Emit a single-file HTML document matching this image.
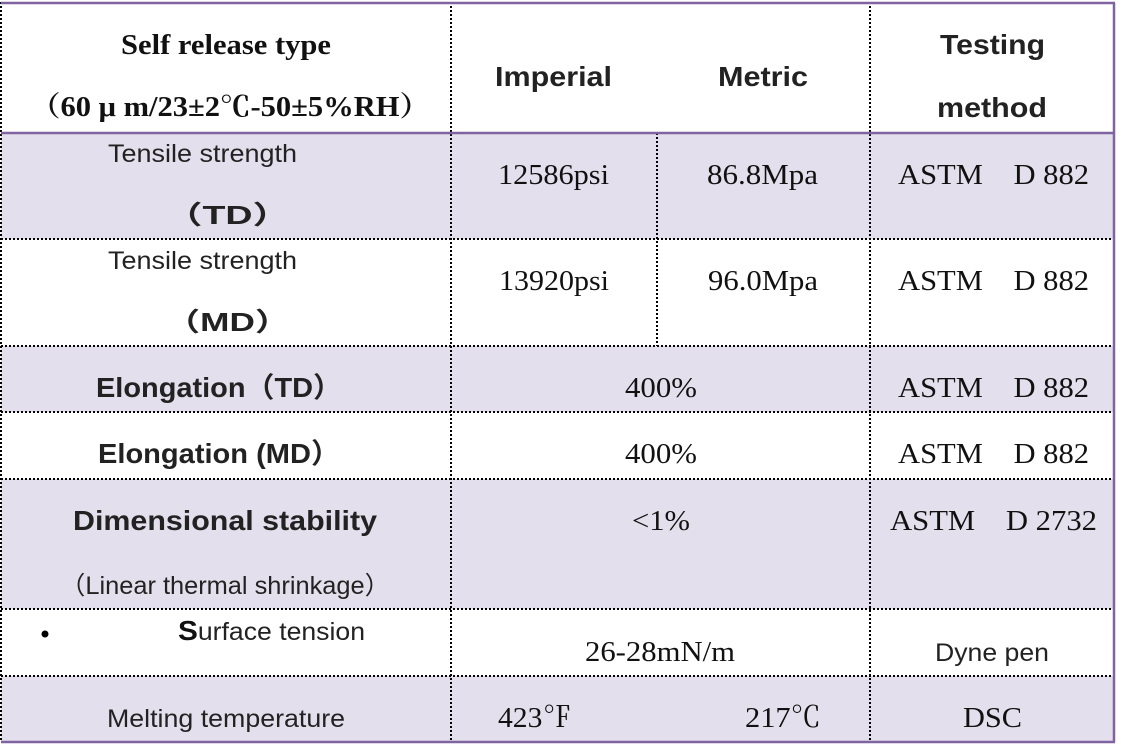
<!DOCTYPE html>
<html><head><meta charset="utf-8"><style>
html,body{margin:0;padding:0;background:#fff;}
svg{display:block}
.s{font-family:"Liberation Sans","Noto Sans CJK SC",sans-serif;fill:#222}
.r{font-family:"Liberation Serif","Noto Serif CJK SC",serif;fill:#111}
</style></head><body>
<svg width="1121" height="745" xmlns="http://www.w3.org/2000/svg">
<rect x="0" y="0" width="1121" height="745" fill="#fff"/>
<g fill="#e4dfec">
<rect x="1" y="133" width="1113" height="106"/>
<rect x="1" y="346" width="1113" height="66"/>
<rect x="1" y="479" width="1113" height="130"/>
<rect x="1" y="676" width="1113" height="66"/>
</g>
<g stroke="#000" stroke-width="2" stroke-dasharray="2,2" fill="none">
<line x1="1" y1="2" x2="1" y2="742"/>
<line x1="451" y1="2" x2="451" y2="742"/>
<line x1="657" y1="133" x2="657" y2="346"/>
<line x1="870" y1="2" x2="870" y2="742"/>
<line x1="1" y1="239" x2="1114" y2="239"/>
<line x1="1" y1="346" x2="1114" y2="346"/>
<line x1="1" y1="412" x2="1114" y2="412"/>
<line x1="1" y1="479" x2="1114" y2="479"/>
<line x1="1" y1="609" x2="1114" y2="609"/>
<line x1="1" y1="676" x2="1114" y2="676"/>
</g>
<g stroke="#8064a2" stroke-width="2.5" fill="none">
<line x1="1" y1="3" x2="1115" y2="3"/>
<line x1="1" y1="133" x2="1115" y2="133"/>
<line x1="1" y1="742" x2="1115" y2="742"/>
<line x1="1114" y1="3" x2="1114" y2="742"/>
</g>
<g lengthAdjust="spacingAndGlyphs">
<text class="r" x="121" y="54" font-size="28" font-weight="bold" textLength="210" lengthAdjust="spacingAndGlyphs">Self release type</text>
<text class="r" x="30" y="116" font-size="28" font-weight="bold" textLength="400" lengthAdjust="spacingAndGlyphs">（60 μ m/23±2℃-50±5%RH）</text>
<text class="s" x="495" y="86" font-size="28" font-weight="bold" fill="#111" textLength="117" lengthAdjust="spacingAndGlyphs">Imperial</text>
<text class="s" x="718" y="86" font-size="28" font-weight="bold" fill="#111" textLength="90" lengthAdjust="spacingAndGlyphs">Metric</text>
<text class="s" x="940" y="54" font-size="28" font-weight="bold" fill="#111" textLength="105" lengthAdjust="spacingAndGlyphs">Testing</text>
<text class="s" x="937" y="117" font-size="28" font-weight="bold" fill="#111" textLength="110" lengthAdjust="spacingAndGlyphs">method</text>

<text class="s" x="108" y="162" font-size="25" textLength="189" lengthAdjust="spacingAndGlyphs">Tensile strength</text>
<text class="s" x="165" y="224" font-size="26" font-weight="bold" fill="#111" textLength="125" lengthAdjust="spacingAndGlyphs">（TD）</text>
<text class="r" x="498" y="184" font-size="29" textLength="111" lengthAdjust="spacingAndGlyphs">12586psi</text>
<text class="r" x="707" y="184" font-size="29" textLength="111" lengthAdjust="spacingAndGlyphs">86.8Mpa</text>
<text class="r" x="898" y="184" font-size="29" textLength="191" lengthAdjust="spacingAndGlyphs">ASTM　D 882</text>

<text class="s" x="108" y="269" font-size="25" textLength="189" lengthAdjust="spacingAndGlyphs">Tensile strength</text>
<text class="s" x="165" y="331" font-size="26" font-weight="bold" fill="#111" textLength="125" lengthAdjust="spacingAndGlyphs">（MD）</text>
<text class="r" x="499" y="290" font-size="29" textLength="110" lengthAdjust="spacingAndGlyphs">13920psi</text>
<text class="r" x="708" y="290" font-size="29" textLength="110" lengthAdjust="spacingAndGlyphs">96.0Mpa</text>
<text class="r" x="898" y="290" font-size="29" textLength="191" lengthAdjust="spacingAndGlyphs">ASTM　D 882</text>

<text class="s" x="96" y="397" font-size="28" font-weight="bold" fill="#111" textLength="246" lengthAdjust="spacingAndGlyphs">Elongation（TD）</text>
<text class="r" x="625" y="397" font-size="29" textLength="72" lengthAdjust="spacingAndGlyphs">400%</text>
<text class="r" x="898" y="397" font-size="29" textLength="191" lengthAdjust="spacingAndGlyphs">ASTM　D 882</text>

<text class="s" x="98" y="463" font-size="28" font-weight="bold" fill="#111" textLength="242" lengthAdjust="spacingAndGlyphs">Elongation (MD）</text>
<text class="r" x="625" y="463" font-size="29" textLength="72" lengthAdjust="spacingAndGlyphs">400%</text>
<text class="r" x="898" y="463" font-size="29" textLength="191" lengthAdjust="spacingAndGlyphs">ASTM　D 882</text>

<text class="s" x="73" y="530" font-size="28" font-weight="bold" fill="#111" textLength="304" lengthAdjust="spacingAndGlyphs">Dimensional stability</text>
<text class="s" x="60" y="594" font-size="25" textLength="330" lengthAdjust="spacingAndGlyphs">（Linear thermal shrinkage）</text>
<text class="r" x="632" y="530" font-size="29" textLength="58" lengthAdjust="spacingAndGlyphs">&lt;1%</text>
<text class="r" x="890" y="530" font-size="29" textLength="207" lengthAdjust="spacingAndGlyphs">ASTM　D 2732</text>

<text class="s" x="178" y="640" font-size="25" textLength="187" lengthAdjust="spacingAndGlyphs"><tspan font-weight="bold" font-size="28" fill="#111">S</tspan>urface tension</text>
<text class="r" x="585" y="661" font-size="29" textLength="150" lengthAdjust="spacingAndGlyphs">26-28mN/m</text>
<text class="s" x="935" y="661" font-size="25" textLength="114" lengthAdjust="spacingAndGlyphs">Dyne pen</text>

<text class="s" x="107" y="727" font-size="25" textLength="238" lengthAdjust="spacingAndGlyphs">Melting temperature</text>
<text class="r" x="498" y="727" font-size="29" textLength="74" lengthAdjust="spacingAndGlyphs">423℉</text>
<text class="r" x="745" y="727" font-size="29" textLength="76" lengthAdjust="spacingAndGlyphs">217℃</text>
<text class="r" x="963" y="727" font-size="29" textLength="59" lengthAdjust="spacingAndGlyphs">DSC</text>
</g>
<circle cx="45" cy="634" r="3.5" fill="#000"/>
</svg>
</body></html>
